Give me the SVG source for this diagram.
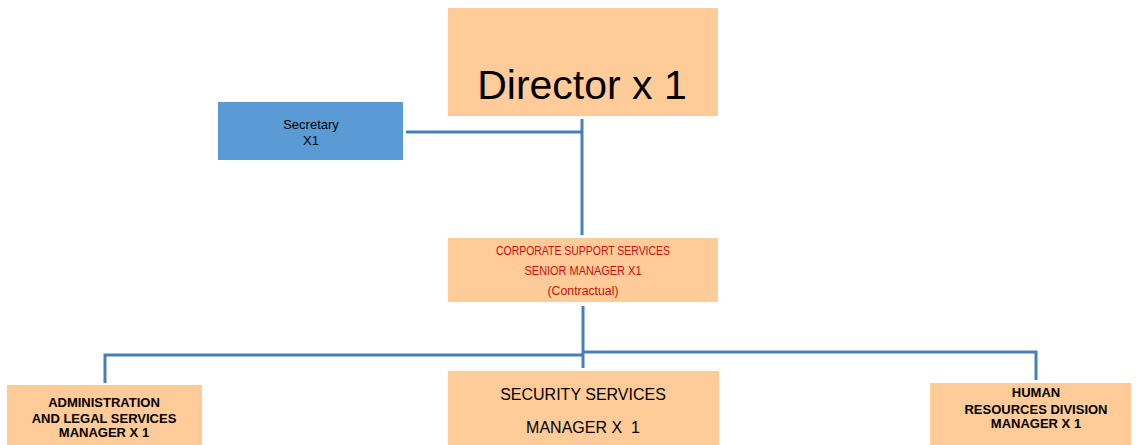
<svg xmlns="http://www.w3.org/2000/svg" width="1136" height="445" viewBox="0 0 1136 445">
<style>
.box{fill:#FFCB99;}
.sec{fill:#5B9BD5;}
.ln{stroke:#4A7EBB;stroke-width:3;fill:none;}
.t{font-family:"Liberation Sans",Arial,sans-serif;text-anchor:middle;fill:#000;}
.b{font-weight:bold;font-size:13px;}
.red{fill:#C80F0F;font-size:12px;}
</style>
<rect width="1136" height="445" fill="#fff"/>
<g id="connectors">
<path class="ln" d="M582 119 V235"/>
<path class="ln" d="M406 132 H582"/>
<path class="ln" d="M583 306 V368"/>
<path class="ln" d="M583 355 H105 V383"/>
<path class="ln" d="M583 352 H1036 V380"/>
</g>
<g id="director">
<rect class="box" x="448" y="8" width="270" height="108"/>
<text class="t" x="582" y="99" font-size="41">Director x 1</text>
</g>
<g id="secretary">
<rect class="sec" x="218" y="102" width="185" height="58"/>
<text class="t" x="311" y="129" font-size="13">Secretary</text>
<text class="t" x="311" y="145" font-size="13">X1</text>
</g>
<g id="corporate">
<rect class="box" x="448" y="238" width="270" height="64"/>
<text class="t red" x="583" y="255" textLength="174" lengthAdjust="spacingAndGlyphs">CORPORATE SUPPORT SERVICES</text>
<text class="t red" x="583" y="275" textLength="117" lengthAdjust="spacingAndGlyphs">SENIOR MANAGER X1</text>
<text class="t red" x="583" y="295" textLength="71" lengthAdjust="spacingAndGlyphs">(Contractual)</text>
</g>
<g id="admin">
<rect class="box" x="7" y="385" width="195" height="60"/>
<text class="t b" x="104" y="407">ADMINISTRATION</text>
<text class="t b" x="104" y="423">AND LEGAL SERVICES</text>
<text class="t b" x="104" y="437">MANAGER X 1</text>
</g>
<g id="security">
<rect class="box" x="448" y="371" width="271" height="74"/>
<text class="t" x="583" y="400" font-size="16">SECURITY SERVICES</text>
<text class="t" x="583" y="433" font-size="16" xml:space="preserve" style="white-space:pre">MANAGER X  1</text>
</g>
<g id="hr">
<rect class="box" x="930" y="383" width="201" height="62"/>
<text class="t b" x="1036" y="397">HUMAN</text>
<text class="t b" x="1036" y="414">RESOURCES DIVISION</text>
<text class="t b" x="1036" y="428">MANAGER X 1</text>
</g>
</svg>
